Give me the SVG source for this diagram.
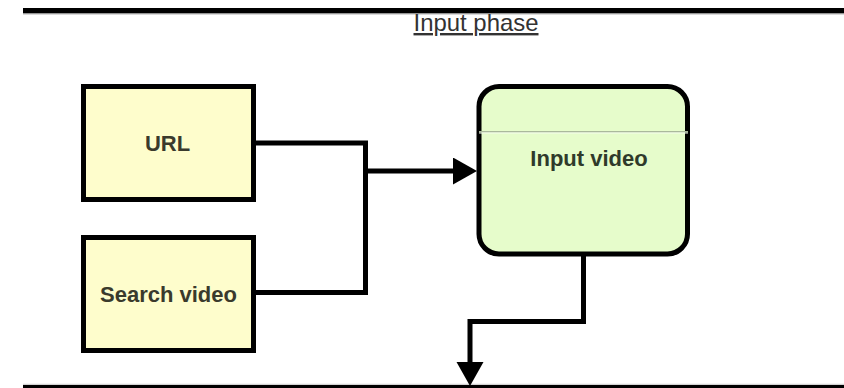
<svg xmlns="http://www.w3.org/2000/svg" width="844" height="388" viewBox="0 0 844 388">
  <style>
    .label { font-family: "Liberation Sans", Arial, sans-serif; font-size: 22px; font-weight: bold; text-anchor: middle; }
    .src { fill: #fefdcc; stroke: #000; stroke-width: 5; }
    .store { fill: #e6fccb; stroke: #000; stroke-width: 5; }
    .wire { fill: none; stroke: #000; stroke-width: 5; stroke-linejoin: miter; }
    .title { font-family: "Liberation Sans", Arial, sans-serif; font-size: 24px; fill: #333; text-anchor: middle; text-decoration: underline; }
  </style>
  <defs>
    <marker id="head-right" markerUnits="userSpaceOnUse" markerWidth="26" markerHeight="28" refX="0" refY="13.5" orient="auto">
      <path d="M0,0 L24,13.5 L0,27 Z" fill="#000"/>
    </marker>
  </defs>

  <!-- phase band borders -->
  <g id="phase-band">
    <rect x="23" y="8" width="821" height="5.5" fill="#000"/>
    <line x1="23" y1="14.2" x2="844" y2="14.2" stroke="#c8c8c8" stroke-width="1"/>
    <line x1="23" y1="384.3" x2="844" y2="384.3" stroke="#c8c8c8" stroke-width="1"/>
    <rect x="23" y="385" width="821" height="3" fill="#000"/>
    <text class="title" x="476" y="31" textLength="125" lengthAdjust="spacingAndGlyphs">Input phase</text>
  </g>

  <!-- connectors -->
  <g id="connectors">
    <polyline class="wire" points="256,143 365.5,143 365.5,292.5 256,292.5"/>
    <line class="wire" x1="365.5" y1="171" x2="453" y2="171" marker-end="url(#head-right)"/>
    <polyline class="wire" points="583.5,256 583.5,321.5 470,321.5 470,362" marker-end="url(#head-right)"/>
  </g>

  <g id="node-url">
    <rect class="src" x="83.5" y="86.5" width="170" height="113"/>
    <text class="label" x="167.5" y="150.5" fill="#3a3a2c">URL</text>
  </g>

  <g id="node-search-video">
    <rect class="src" x="83.5" y="237.5" width="170" height="113"/>
    <text class="label" x="168.5" y="302" fill="#3a3a2c">Search video</text>
  </g>

  <g id="node-input-video">
    <rect class="store" x="479" y="86.5" width="208.5" height="167.5" rx="20" ry="20"/>
    <line x1="479" y1="131.7" x2="688" y2="131.7" stroke="#aab89c" stroke-width="1.5"/>
    <line x1="479" y1="133" x2="688" y2="133" stroke="#f4fbee" stroke-width="1"/>
    <text class="label" x="589" y="165.5" fill="#2f3a2a">Input video</text>
  </g>
</svg>
